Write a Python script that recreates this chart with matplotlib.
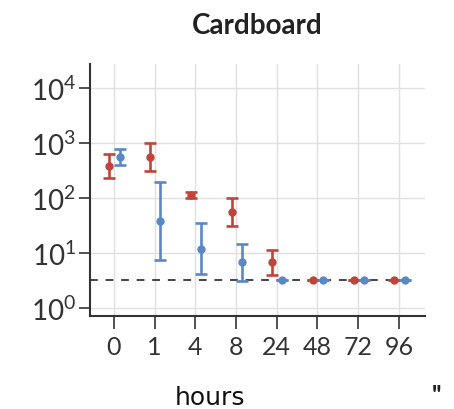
import numpy as np
import matplotlib
matplotlib.use("Agg")
import matplotlib.pyplot as plt

plt.rcParams['font.family'] = ['Lato', 'DejaVu Sans']
plt.rcParams['mathtext.fontset'] = 'custom'
plt.rcParams['mathtext.rm'] = 'Lato'
plt.rcParams['mathtext.it'] = 'Lato:italic'
plt.rcParams['mathtext.bf'] = 'Lato:bold'

# Data (titer on a log scale)
hours = ['0', '1', '4', '8', '24', '48', '72', '96']
lod = 10 ** 0.5  # detection limit (dashed line)

red_mid = [380, 550, 115, 56, 6.9, lod, lod, lod]
red_lo = [230, 310, 100, 31, 4.0, lod, lod, lod]
red_hi = [620, 980, 130, 99, 11.2, lod, lod, lod]

blue_mid = [550, 38, 12, 6.8, lod, lod, lod, lod]
blue_lo = [400, 7.4, 4.1, 3.1, lod, lod, lod, lod]
blue_hi = [780, 194, 35, 14.6, lod, lod, lod, lod]

red = '#c0443a'
blue = '#5a88c6'

fig = plt.figure(figsize=(4.54, 4.10), dpi=100)
ax = fig.add_axes([0.198, 0.227, 0.738, 0.615])

x = np.arange(len(hours))

# grid
ax.set_axisbelow(True)
ax.grid(True, color='#e0e0e0', linewidth=1.0)

# detection limit
ax.axhline(lod, xmin=0, xmax=0.97, color='#444444', linestyle=(0, (4, 4)),
           linewidth=1.4, zorder=2)

def draw_series(xpos, mid, lo, hi, color):
    mid = np.array(mid)
    err = np.vstack([mid - np.array(lo), np.array(hi) - mid])
    ax.errorbar(xpos, mid, yerr=err, fmt='o', color=color, ecolor=color,
                markersize=5, elinewidth=1.9, capsize=4, capthick=1.9,
                zorder=3)

draw_series(x - 0.11, red_mid, red_lo, red_hi, red)
draw_series(x + 0.14, blue_mid, blue_lo, blue_hi, blue)

ax.set_yscale('log')
ax.set_ylim(10 ** -0.145, 10 ** 4.44)
ax.set_xlim(-0.59, 7.64)

ax.set_xticks(x)
ax.set_xticklabels(hours, fontsize=18, color='#333333')
ax.set_yticks([1, 10, 100, 1000, 10000])
ax.set_yticklabels([r'$10^{0}$', r'$10^{1}$', r'$10^{2}$', r'$10^{3}$', r'$10^{4}$'],
                   fontsize=20, color='#333333')
ax.minorticks_off()
ax.tick_params(axis='both', length=8, width=1.2, color='#333333', pad=2)
ax.tick_params(axis='x', length=9, pad=5)

for side in ['top', 'right']:
    ax.spines[side].set_visible(False)
for side in ['left', 'bottom']:
    ax.spines[side].set_color('#333333')
    ax.spines[side].set_linewidth(1.5)

ax.set_title('Cardboard', fontsize=20, fontweight='bold', color='#222222', pad=22)

fig.text(0.462, 0.03, 'hours', fontsize=18, ha='center', va='center',
         family='DejaVu Sans', color='#111111')
fig.text(0.963, 0.035, "''", fontsize=18, ha='center', va='center',
         fontweight='bold', color='#222222')

fig.savefig('out.png', dpi=100)
